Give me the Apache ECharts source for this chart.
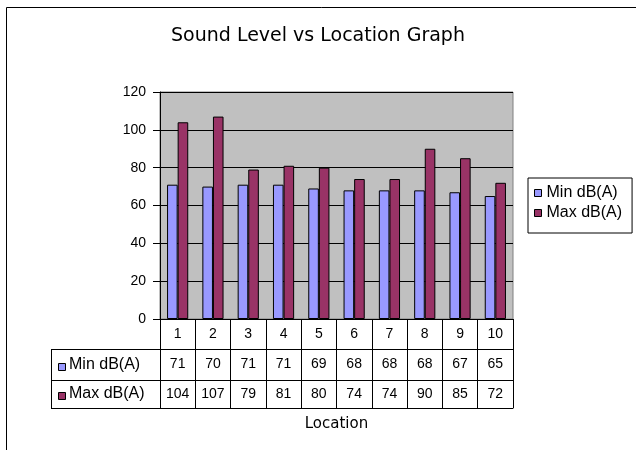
<!DOCTYPE html>
<html>
<head>
<meta charset="utf-8">
<script src="https://cdn.jsdelivr.net/npm/echarts@6/dist/echarts.min.js"></script>
<style>
  html, body { margin: 0; padding: 0; background: #fff; }
  #chart { width: 636px; height: 450px; }
</style>
</head>
<body>
<div id="chart"></div>
<script>
// Measurement data: sound level at each location
const locations = ['1', '2', '3', '4', '5', '6', '7', '8', '9', '10'];
const minDb = [71, 70, 71, 71, 69, 68, 68, 68, 67, 65];
const maxDb = [104, 107, 79, 81, 80, 74, 74, 90, 85, 72];
const seriesNames = ['Min dB(A)', 'Max dB(A)'];
const yRange = { min: 0, max: 120, step: 20 };

// Styling
const colors = ['#9999FF', '#993366'];
const numFont = 'Liberation Sans, Arial, sans-serif';
const titleFont = 'DejaVu Sans, Verdana, sans-serif';

// Layout of plot area and the data table underneath it
const plot = { left: 160, right: 513, top: 92, bottom: 319 };
const tableLeft = 51;
const rowH = [30, 31, 28];             // category row, min row, max row
const rowY = [plot.bottom];
rowH.forEach((h, i) => rowY.push(rowY[i] + h));   // horizontal table lines

const chart = echarts.init(document.getElementById('chart'), null, { renderer: 'canvas' });

// One category x-axis per table row; its ticks form the cell walls
function tableAxis(row, labels) {
  const offset = rowY[row] - plot.bottom;
  return {
    type: 'category',
    data: locations,
    position: 'bottom',
    offset: offset,
    axisLine: { show: true, lineStyle: { color: '#000', width: 1 } },
    axisTick: { show: true, interval: 0, length: rowH[row], lineStyle: { color: '#000', width: 1 } },
    axisLabel: {
      interval: 0,
      margin: rowH[row] / 2 - 7,
      color: '#000',
      fontFamily: numFont,
      fontSize: 14,
      formatter: (v, i) => String(labels[i])
    },
    splitLine: { show: false }
  };
}

const bottomAxis = {
  type: 'category',
  data: locations,
  position: 'bottom',
  offset: rowY[3] - plot.bottom,
  axisLine: { show: true, lineStyle: { color: '#000', width: 1 } },
  axisTick: { show: false },
  axisLabel: { show: false },
  name: 'Location',
  nameLocation: 'middle',
  nameGap: 9,
  nameTextStyle: { color: '#000', fontFamily: titleFont, fontSize: 15 }
};

// Chart frame, plus the row headers of the data table (marker + series name)
const graphics = [
  { type: 'polyline', silent: true,
    shape: { points: [[6.5, 450], [6.5, 7.5], [636, 7.5]] },
    style: { stroke: '#000', lineWidth: 1, fill: null } }
];
[1, 2, 3].forEach(r => {
  graphics.push({ type: 'line', silent: true,
    shape: { x1: tableLeft, y1: rowY[r] + 0.5, x2: plot.left, y2: rowY[r] + 0.5 },
    style: { stroke: '#000', lineWidth: 1 } });
});
graphics.push({ type: 'line', silent: true,
  shape: { x1: tableLeft + 0.5, y1: rowY[1], x2: tableLeft + 0.5, y2: rowY[3] },
  style: { stroke: '#000', lineWidth: 1 } });
seriesNames.forEach((name, i) => {
  const cy = rowY[i + 1] + rowH[i + 1] / 2;
  graphics.push({ type: 'rect', silent: true,
    shape: { x: tableLeft + 7.5, y: Math.round(cy) - 1.5, width: 7, height: 7 },
    style: { fill: colors[i], stroke: '#000', lineWidth: 1 } });
  graphics.push({ type: 'text', silent: true,
    x: tableLeft + 18, y: cy,
    style: { text: name, fill: '#000', font: '16px ' + numFont, textAlign: 'left', textVerticalAlign: 'middle' } });
});

const option = {
  animation: false,
  backgroundColor: '#fff',
  title: {
    text: 'Sound Level vs Location Graph',
    left: 'center',
    top: 22,
    padding: [5, 5, 5, 13],
    textStyle: { color: '#000', fontFamily: titleFont, fontSize: 19, fontWeight: 'normal' }
  },
  legend: {
    orient: 'vertical',
    left: 528,
    top: 178,
    padding: [7, 10, 12, 6],
    itemGap: 4,
    itemWidth: 7,
    itemHeight: 7,
    icon: 'rect',
    borderColor: '#000',
    borderWidth: 1,
    textStyle: { color: '#000', fontFamily: numFont, fontSize: 16 },
    data: seriesNames.map(n => ({ name: n, itemStyle: { borderColor: '#000', borderWidth: 1 } }))
  },
  grid: {
    left: plot.left,
    right: 636 - plot.right,
    top: plot.top,
    bottom: 450 - plot.bottom,
    show: true,
    backgroundColor: '#C0C0C0',
    borderColor: '#808080',
    borderWidth: 1
  },
  xAxis: [
    tableAxis(0, locations),
    tableAxis(1, minDb),
    tableAxis(2, maxDb),
    bottomAxis
  ],
  yAxis: {
    type: 'value',
    min: yRange.min,
    max: yRange.max,
    interval: yRange.step,
    axisLine: { show: true, lineStyle: { color: '#000', width: 1 } },
    axisTick: { show: true, length: 7, lineStyle: { color: '#000' } },
    axisLabel: { margin: 14, color: '#000', fontFamily: numFont, fontSize: 14 },
    splitLine: { show: true, lineStyle: { color: '#000', width: 1 } }
  },
  series: [
    { name: seriesNames[0], type: 'bar', xAxisIndex: 0, data: minDb,
      barGap: '0%', barCategoryGap: '40%',
      itemStyle: { color: colors[0], borderColor: '#000', borderWidth: 1 } },
    { name: seriesNames[1], type: 'bar', xAxisIndex: 0, data: maxDb,
      barGap: '0%', barCategoryGap: '40%',
      itemStyle: { color: colors[1], borderColor: '#000', borderWidth: 1 } }
  ],
  graphic: graphics
};

chart.setOption(option);
</script>
</body>
</html>
